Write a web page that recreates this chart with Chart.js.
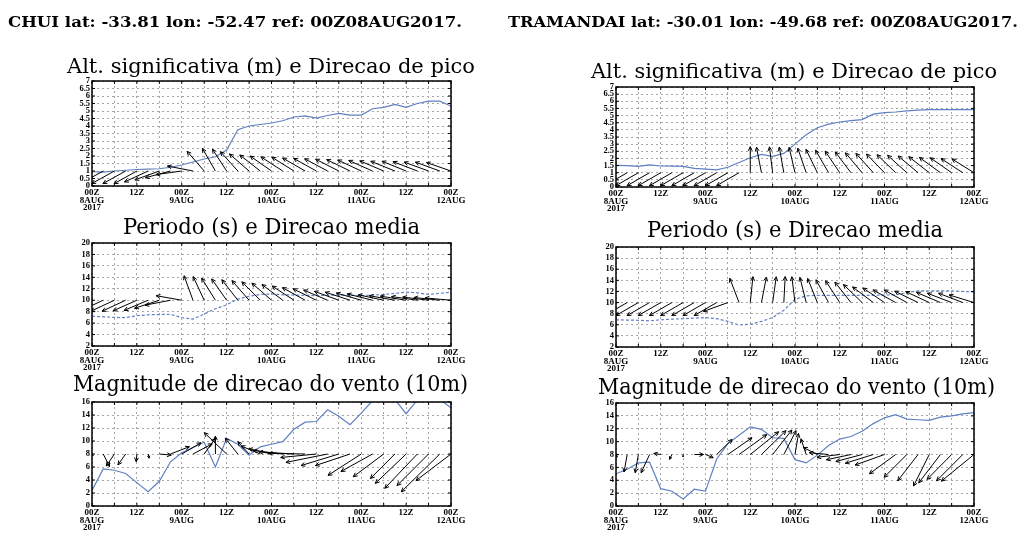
<!DOCTYPE html>
<html>
<head>
<meta charset="utf-8">
<script src="https://cdn.jsdelivr.net/npm/chart.js@4.4.1/dist/chart.umd.min.js"></script>
<style>
  html, body { margin: 0; padding: 0; background: #fff; }
  #page { position: relative; width: 1024px; height: 541px; overflow: hidden; }
  #page canvas { position: absolute; }
  #labels { position: absolute; left: 0; top: 0; }
</style>
</head>
<body>
<div id="page"><svg id="labels" width="1024" height="541"></svg></div>
<script>
/* time axis (hours after 00Z 08AUG2017) */
const hours = [0, 3, 6, 9, 12, 15, 18, 21, 24, 27, 30, 33, 36, 39, 42, 45, 48,
  51, 54, 57, 60, 63, 66, 69, 72, 75, 78, 81, 84, 87, 90, 93, 96];
const xTickHours = [0, 12, 24, 36, 48, 60, 72, 84, 96];
const xTickText = [["00Z", "8AUG", "2017"], "12Z", ["00Z", "9AUG"], "12Z", ["00Z", "10AUG"],
  "12Z", ["00Z", "11AUG"], "12Z", ["00Z", "12AUG"]];

const stationNames = ["CHUI lat: -33.81 lon: -52.47 ref: 00Z08AUG2017.",
  "TRAMANDAI lat: -30.01 lon: -49.68 ref: 00Z08AUG2017."];
const panelTitles = ["Alt. significativa (m) e Direcao de pico",
  "Periodo (s) e Direcao media", "Magnitude de direcao do vento (10m)"];

/* CHUI */
const chuiHs = [0.95, 0.92, 1.0, 1.05, 1.1, 1.12, 1.15, 1.25, 1.4, 1.6, 1.8, 1.95, 2.4, 3.75, 4.0, 4.1, 4.2,
  4.35, 4.6, 4.68, 4.52, 4.7, 4.84, 4.73, 4.73, 5.15, 5.24, 5.44, 5.24, 5.5, 5.66, 5.66, 5.33];
const chuiPeakDir = [241, 241, 241, 241, 241, 245, 250, 255, 262, 281, 319, 330, 327, 318, 311, 308, 305,
  303, 302, 300, 299, 298, 297, 296, 295, 294, 293, 292, 292, 291, 290, 290, 289];
const chuiTp = [7.2, 7.1, 7.0, 6.95, 7.3, 7.45, 7.5, 7.55, 6.95, 6.7, 7.6, 8.5, 9.2, 10.2, 10.7, 11.0, 11.1,
  10.95, 10.9, 10.85, 10.8, 10.85, 10.9, 10.85, 10.8, 10.9, 11.0, 11.2, 11.4, 11.3, 11.0, 11.2, 11.4];
const chuiMeanDir = [245, 245, 245, 245, 246, 247, 252, 259, 280, 340, 335, 328, 325, 322, 319, 315, 311,
  307, 303, 299, 296, 293, 290, 288, 286, 284, 282, 280, 279, 278, 277, 276, 275];
const chuiWind = [2.4, 5.7, 5.5, 5.0, 3.6, 2.2, 3.8, 6.8, 8.2, 9.0, 9.8, 6.0, 10.4, 9.5, 7.8, 9.1, 9.5,
  9.9, 11.8, 12.9, 13.0, 14.8, 13.8, 12.5, 14.3, 16.2, 16.6, 16.4, 14.2, 16.3, 16.5, 16.4, 15.1];
const chuiU = [0.3, 1.8, -2.3, -2.2, -0.2, 0.3, 3.4, 5.4, 5.5, 5.5, 3.2, 0, -6.4, -3.6, -3.2, -5.5, -6.5,
  -8.5, -10, -10.5, -10.2, -11.9, -10.8, -9.9, -9.5, -9, -8.7, -7, -8.8, -9.3, -9, -11, -10];
const chuiV = [-0.5, -3.6, -3.4, -3.1, -2.2, -1.2, -0.3, 2.1, 3.2, 2.9, 4.5, 5.1, 6.1, 4.5, 3.5, 2.3, 1.5,
  1.0, 0.6, 0.2, -1.0, -2.4, -3.3, -3.3, -6.1, -5, -6.5, -7, -8.4, -9.8, -9, -10.8, -7.6];

/* TRAMANDAI */
const tramHs = [1.52, 1.5, 1.45, 1.55, 1.47, 1.46, 1.44, 1.3, 1.25, 1.2, 1.38, 1.72, 2.05, 2.28, 2.15, 2.35, 3.0,
  3.65, 4.15, 4.4, 4.55, 4.65, 4.72, 5.1, 5.2, 5.25, 5.33, 5.38, 5.42, 5.42, 5.42, 5.42, 5.42];
const tramPeakDir = [240, 240, 240, 240, 240, 240, 240, 240, 240, 240, 240, 240, 0, 349, 353, 350, 347,
  341, 334, 330, 326, 323, 320, 318, 316, 314, 312, 310, 308, 306, 305, 303, 302];
const tramTp = [6.9, 6.85, 6.8, 6.7, 6.9, 7.0, 7.1, 7.2, 7.3, 7.1, 6.6, 5.95, 6.1, 6.6, 7.3, 8.6, 10.6,
  11.2, 11.3, 11.3, 11.3, 11.3, 11.3, 11.3, 11.35, 11.4, 11.8, 12.1, 12.1, 12.1, 12.1, 12.0, 11.9];
const tramMeanDir = [240, 240, 240, 240, 240, 240, 240, 240, 240, 240, 250, 339, 6, 11, 8, 3, 353,
  346, 338, 331, 327, 322, 314, 307, 304, 299, 299, 296, 295, 293, 291, 291, 287];
const tramWind = [5.0, 5.7, 6.7, 6.8, 2.7, 2.3, 1.1, 2.6, 2.3, 7.3, 9.7, 11.0, 12.3, 11.9, 10.6, 10.5, 7.2,
  6.7, 7.9, 9.4, 10.4, 10.8, 11.6, 12.8, 13.7, 14.2, 13.5, 13.4, 13.3, 13.8, 14.0, 14.3, 14.5];
const tramU = [0.3, -0.9, -0.9, -2.4, -2.0, -0.7, 0, 2.6, 2.2, 4.4, 6.9, 7.9, 8.1, 7.0, 5.5, 3.5, 1.0,
  -1.5, -4, -5.5, -6.5, -7, -7.5, -8, -8.4, -7.5, -6.5, -5.8, -4.5, -6.2, -7, -7.5, -9.3];
const tramV = [-0.8, -5.0, -5.2, -5.2, 0.3, -1.4, -0.7, 0, -0.9, 4.3, 4.8, 5.7, 6.5, 6.8, 7.0, 6.8, 6.0,
  4.5, 2, 0.5, -0.8, -1.5, -2, -2.5, -3, -5.5, -6.5, -7.5, -9, -8.1, -7.1, -7.5, -7.6];

/* drawing constants */
const LINE_BLUE = "#5f80c2";
const ARROW_LEN = 26;   // px, unit direction arrows
const WIND_PX = 3.5;    // px per m/s
const HEAD = 4.5;
const PAD_L = 40, PAD_T = 8, PAD_R = 20, PAD_B = 32;

Chart.defaults.font.family = "'Liberation Serif', 'DejaVu Serif', serif";
Chart.defaults.color = "#000";

const page = document.getElementById("page");

function drawArrow(ctx, x0, y0, dx, dy) {
  const len = Math.hypot(dx, dy);
  if (len < 0.5) return;
  const x1 = x0 + dx, y1 = y0 + dy;
  const ang = Math.atan2(dy, dx);
  const hl = Math.min(HEAD, len * 0.6);
  ctx.beginPath();
  ctx.moveTo(x0, y0);
  ctx.lineTo(x1, y1);
  ctx.moveTo(x1 - hl * Math.cos(ang - 0.45), y1 - hl * Math.sin(ang - 0.45));
  ctx.lineTo(x1, y1);
  ctx.lineTo(x1 - hl * Math.cos(ang + 0.45), y1 - hl * Math.sin(ang + 0.45));
  ctx.stroke();
}

const vectorPlugin = (spec) => ({
  id: "vectors",
  afterDatasetsDraw(chart) {
    const { ctx, chartArea: a, scales } = chart;
    const x = scales.x, y = scales.y;
    ctx.save();
    ctx.beginPath();
    ctx.rect(a.left, a.top, a.right - a.left, a.bottom - a.top);
    ctx.clip();
    ctx.strokeStyle = "#000";
    ctx.lineWidth = 1;
    const y0 = y.getPixelForValue(spec.base);
    hours.forEach((h, i) => {
      const x0 = x.getPixelForValue(h);
      let dx, dy;
      if (spec.dir) {
        const t = spec.dir[i] * Math.PI / 180;
        dx = ARROW_LEN * Math.sin(t);
        dy = -ARROW_LEN * Math.cos(t);
      } else {
        dx = spec.u[i] * WIND_PX;
        dy = -spec.v[i] * WIND_PX;
      }
      drawArrow(ctx, x0, y0, dx, dy);
    });
    ctx.restore();

    // frame + small inner ticks
    ctx.save();
    ctx.strokeStyle = "#000";
    ctx.lineWidth = 1.5;
    ctx.strokeRect(a.left, a.top, a.right - a.left, a.bottom - a.top);
    ctx.lineWidth = 1;
    ctx.beginPath();
    x.ticks.forEach((t) => {
      const px = x.getPixelForValue(t.value);
      ctx.moveTo(px, a.bottom); ctx.lineTo(px, a.bottom - 3);
      ctx.moveTo(px, a.top); ctx.lineTo(px, a.top + 3);
    });
    y.ticks.forEach((t) => {
      const py = y.getPixelForValue(t.value);
      ctx.moveTo(a.left, py); ctx.lineTo(a.left + 3, py);
      ctx.moveTo(a.right, py); ctx.lineTo(a.right - 3, py);
    });
    ctx.stroke();
    ctx.restore();
  },
});

function makePanel(box, yRange, values, dashed, spec) {
  const canvas = document.createElement("canvas");
  canvas.width = box.w + PAD_L + PAD_R;
  canvas.height = box.h + PAD_T + PAD_B;
  canvas.style.left = (box.x - PAD_L) + "px";
  canvas.style.top = (box.y - PAD_T) + "px";
  page.insertBefore(canvas, page.firstChild);

  const grid = { color: "#a6a6a6", lineWidth: 1, drawTicks: false };
  const border = { display: false, dash: [2, 3] };

  new Chart(canvas, {
    type: "line",
    data: {
      datasets: [{
        data: hours.map((h, i) => ({ x: h, y: values[i] })),
        borderColor: LINE_BLUE,
        borderWidth: 1.2,
        borderDash: dashed ? [3, 2] : [],
        pointRadius: 0,
        tension: 0,
        clip: 0,
      }],
    },
    options: {
      responsive: false,
      animation: false,
      events: [],
      layout: { padding: { left: 0, top: PAD_T, right: PAD_R, bottom: 0 } },
      plugins: { legend: { display: false }, tooltip: { enabled: false } },
      scales: {
        x: {
          type: "linear", min: 0, max: 96,
          afterFit: (s) => { s.height = PAD_B; },
          grid, border,
          ticks: {
            stepSize: 6, autoSkip: false, maxRotation: 0, padding: 3,
            font: { size: 9, weight: "bold", lineHeight: 0.85 },
            callback: (v) => {
              const k = xTickHours.indexOf(v);
              return k >= 0 ? xTickText[k] : "";
            },
          },
        },
        y: {
          min: yRange[0], max: yRange[1],
          afterFit: (s) => { s.width = PAD_L; },
          grid, border,
          ticks: {
            stepSize: yRange[2], autoSkip: false, padding: 2,
            font: { size: 8.5, weight: "bold" },
            callback: (v) => String(Math.round(v * 10) / 10),
          },
        },
      },
    },
    plugins: [vectorPlugin(spec)],
  });
}

/* panel boxes (plot areas) */
const L = 92, R = 616;
makePanel({ x: L, y: 81, w: 359, h: 105 }, [0, 7, 0.5], chuiHs, false, { base: 1, dir: chuiPeakDir });
makePanel({ x: L, y: 243, w: 359, h: 103 }, [2, 20, 2], chuiTp, true, { base: 10, dir: chuiMeanDir });
makePanel({ x: L, y: 402, w: 359, h: 104 }, [0, 16, 2], chuiWind, false, { base: 8, u: chuiU, v: chuiV });
makePanel({ x: R, y: 87, w: 358, h: 100 }, [0, 7, 0.5], tramHs, false, { base: 1, dir: tramPeakDir });
makePanel({ x: R, y: 247, w: 358, h: 100 }, [2, 20, 2], tramTp, true, { base: 10, dir: tramMeanDir });
makePanel({ x: R, y: 403, w: 358, h: 103 }, [0, 16, 2], tramWind, false, { base: 8, u: tramU, v: tramV });

/* headers and titles */
const svg = document.getElementById("labels");
const texts = [
  { t: stationNames[0], x: 8, y: 26.5, w: 454, size: 15, bold: true },
  { t: stationNames[1], x: 508, y: 26.5, w: 510, size: 15, bold: true },
  { t: panelTitles[0], x: 67, y: 73, w: 408, size: 21 },
  { t: panelTitles[1], x: 123, y: 234, w: 297, size: 22 },
  { t: panelTitles[2], x: 73, y: 390.5, w: 395, size: 22 },
  { t: panelTitles[0], x: 591, y: 78, w: 406, size: 21 },
  { t: panelTitles[1], x: 647, y: 236.5, w: 296, size: 22 },
  { t: panelTitles[2], x: 598, y: 394, w: 397, size: 22 },
];
texts.forEach((d) => {
  const el = document.createElementNS("http://www.w3.org/2000/svg", "text");
  el.setAttribute("x", d.x);
  el.setAttribute("y", d.y);
  el.setAttribute("textLength", d.w);
  el.setAttribute("lengthAdjust", "spacingAndGlyphs");
  el.setAttribute("font-family", "DejaVu Serif, serif");
  el.setAttribute("font-size", d.size);
  el.setAttribute("font-weight", d.bold ? "bold" : "normal");
  el.setAttribute("fill", "#000");
  el.textContent = d.t;
  svg.appendChild(el);
});
</script>
</body>
</html>
